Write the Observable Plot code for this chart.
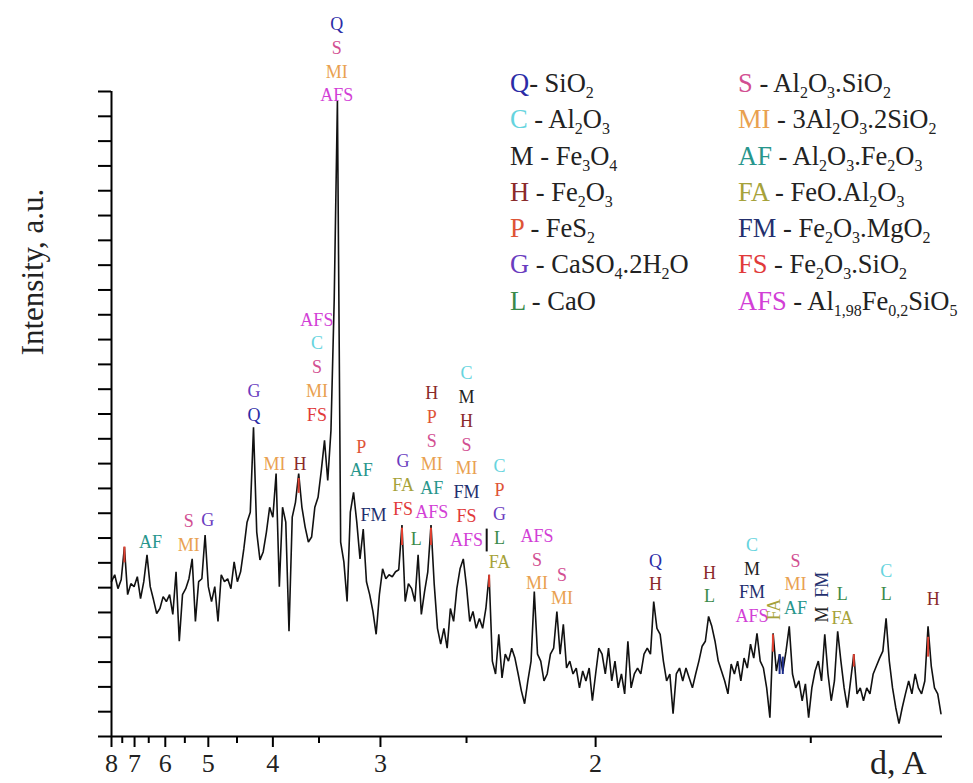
<!DOCTYPE html>
<html>
<head>
<meta charset="utf-8">
<script src="https://cdn.jsdelivr.net/npm/d3@7"></script>
<script src="https://cdn.jsdelivr.net/npm/@observablehq/plot@0.6"></script>
<style>
  body { margin: 0; background: #fff; }
  #wrap { position: relative; width: 973px; height: 783px; color: #222; font-family: "Liberation Serif", Tinos, "Times New Roman", serif; }
  #wrap svg { position: absolute; left: 0; top: 0; }
  .legcol { position: absolute; font-size: 26.5px; line-height: 36.3px; white-space: nowrap; }
  .legcol div { height: 36.3px; }
  .legcol sub { font-size: 16px; vertical-align: -6px; line-height: 0; }
  #ylab { position: absolute; left: 33px; top: 272px; transform: translate(-50%, -50%) rotate(-90deg); font-size: 31px; white-space: nowrap; }
  #xlab { position: absolute; left: 870px; top: 744px; font-size: 34px; white-space: nowrap; }
</style>
</head>
<body>
<div id="wrap"></div>
<script>
// ---- data ----
// diffractogram, sampled uniformly in s = 1/d (Å^-1)
const sStart = 0.125;
const sStep = 0.0025;
const intensity = [
  624,652,596,632,764,572,616,604,644,556,
  624,732,604,552,496,516,564,544,572,492,
  664,384,572,596,636,716,464,624,636,812,
  604,544,604,464,652,624,636,596,704,624,
  664,756,864,904,1246,824,712,744,824,924,
  884,1060,604,924,864,424,884,944,1060,924,
  844,784,804,924,964,1072,1194,1032,1234,1758,
  2563,784,704,544,904,984,864,716,836,624,
  572,504,412,572,676,636,652,644,664,672,
  852,544,616,596,544,732,492,584,664,852,
  612,436,372,436,356,516,464,596,676,716,
  604,464,504,436,476,436,516,652,304,252,
  412,236,332,304,356,316,252,184,132,224,
  304,584,332,304,224,252,332,356,504,332,
  452,276,304,252,276,196,264,224,276,144,
  252,356,332,252,356,224,304,196,252,172,
  384,196,252,276,252,332,356,332,544,436,
  412,304,224,252,92,252,276,224,276,236,
  196,252,304,364,384,484,444,384,304,264,
  224,172,292,252,304,224,316,276,372,316,
  416,304,276,196,76,416,264,332,264,344,
  444,252,196,224,144,212,76,196,264,304,
  224,412,252,144,224,424,304,196,116,224,
  332,172,196,144,196,172,252,284,316,344,
  476,304,196,116,52,116,172,224,172,252,
  196,172,224,444,284,196,172,92
];

// x-axis tick labels (d, Å)
const tickD = [8, 7, 6, 5, 4, 3, 2];
const minorD = [7.5, 6.5, 5.5, 4.5, 3.5, 2.5, 1.5];
const yTicks = d3.range(0, 2601, 100);

// phase labels over peaks: d-spacing, intensity of lowest label, labels top -> bottom
const peakD = [6.44, 5.41, 5.01, 4.25, 3.98, 3.69, 3.52, 3.34, 3.14, 3.05, 2.85, 2.77, 2.68, 2.50, 2.35, 2.20, 2.11, 1.83, 1.70, 1.61, 1.527, 1.447, 1.379, 1.313];
const peakBase = [784, 772, 872, 1296, 1096, 1096, 1296, 2583, 1072, 892, 916, 796, 904, 792, 704, 616, 556, 612, 564, 484, 516, 476, 572, 552];
const peakLabels = [
  ["AF"], ["S", "MI"], ["G"], ["G", "Q"], ["MI"], ["H"],
  ["AFS", "C", "S", "MI", "FS"], ["Q", "S", "MI", "AFS"], ["P", "AF"], ["FM"],
  ["G", "FA", "FS"], ["L"], ["H", "P", "S", "MI", "AF", "AFS"],
  ["C", "M", "H", "S", "MI", "FM", "FS", "AFS"], ["C", "P", "G", "L", "FA"],
  ["AFS", "S", "MI"], ["S", "MI"], ["Q", "H"], ["H", "L"], ["C", "M", "FM", "AFS"],
  ["S", "MI", "AF"], ["L", "FA"], ["C", "L"], ["H"]
];
// vertical (rotated) labels
const rotD = [1.566, 1.481, 1.481];
const rotBase = [512, 492, 612];
const rotLabel = ["FA", "M", "FM"];
// short marker line
const markD = [2.406];
const markLo = [744];
const markHi = [836];
// coloured peak-tip highlights on the trace
const tipD = [7.407, 3.704, 2.857, 2.685, 2.395, 1.569, 1.4286, 1.320, 1.5564, 1.5504];
const tipLo = [700, 980, 770, 770, 600, 340, 280, 320, 250, 250];
const tipHi = [764, 1040, 840, 840, 650, 410, 330, 400, 330, 320];
const tipColor = ["#e04030", "#e04030", "#e04030", "#e04030", "#e04030", "#e04030", "#e04030", "#e04030", "#1a2a8a", "#1a2a8a"];

const phaseColor = {
  Q: "#2b2ba6", C: "#66d4de", M: "#222222", H: "#8a2a2a", P: "#de5436",
  G: "#6a3cbf", L: "#3a8a4a", S: "#d24f92", MI: "#e9a150", AF: "#27968c",
  FA: "#a6a23a", FM: "#232f6e", FS: "#e13a3a", AFS: "#d23fd6"
};

const legendLeft = [
  ["Q", "-&nbsp;SiO<sub>2</sub>"],
  ["C", " - Al<sub>2</sub>O<sub>3</sub>"],
  ["M", " - Fe<sub>3</sub>O<sub>4</sub>"],
  ["H", " - Fe<sub>2</sub>O<sub>3</sub>"],
  ["P", " - FeS<sub>2</sub>"],
  ["G", " - CaSO<sub>4</sub>.2H<sub>2</sub>O"],
  ["L", " - CaO"]
];
const legendRight = [
  ["S", " - Al<sub>2</sub>O<sub>3</sub>.SiO<sub>2</sub>"],
  ["MI", " - 3Al<sub>2</sub>O<sub>3</sub>.2SiO<sub>2</sub>"],
  ["AF", " - Al<sub>2</sub>O<sub>3</sub>.Fe<sub>2</sub>O<sub>3</sub>"],
  ["FA", " - FeO.Al<sub>2</sub>O<sub>3</sub>"],
  ["FM", " - Fe<sub>2</sub>O<sub>3</sub>.MgO<sub>2</sub>"],
  ["FS", " - Fe<sub>2</sub>O<sub>3</sub>.SiO<sub>2</sub>"],
  ["AFS", " - Al<sub>1,98</sub>Fe<sub>0,2</sub>SiO<sub>5</sub>"]
];

const font = "'Liberation Serif', Tinos, 'Times New Roman', serif";

// ---- build ----
const spectrum = intensity.map((v, i) => ({s: sStart + i * sStep, v}));
const labels = [];
peakD.forEach((d, j) => {
  const arr = peakLabels[j];
  arr.forEach((lab, k) => labels.push({s: 1 / d, v: peakBase[j], lab, level: arr.length - 1 - k}));
});
const rotated = rotD.map((d, j) => ({s: 1 / d, v: rotBase[j], lab: rotLabel[j]}));
const marks2 = markD.map((d, j) => ({s: 1 / d, lo: markLo[j], hi: markHi[j]}));
const tips = tipD.map((d, j) => ({s: 1 / d, lo: tipLo[j], hi: tipHi[j], c: tipColor[j]}));

const levelMarks = d3.range(0, 8).map(k =>
  Plot.text(labels.filter(l => l.level === k), {
    x: "s", y: "v", text: "lab", fill: l => phaseColor[l.lab],
    dy: -23.8 * k, fontSize: 18, fontFamily: font
  })
);

const chart = Plot.plot({
  width: 973,
  height: 783,
  marginLeft: 111,
  marginRight: 31,
  marginTop: 91,
  marginBottom: 47,
  style: {background: "transparent", fontFamily: font},
  x: {domain: [0.125, 0.7687], axis: null, label: null},
  y: {domain: [0, 2600], axis: null, label: null},
  marks: [
    Plot.line(spectrum, {x: "s", y: "v", stroke: "#111", strokeWidth: 1.6, strokeLinejoin: "miter"}),
    Plot.ruleX(tips, {x: "s", y1: "lo", y2: "hi", stroke: "c", strokeWidth: 2}),
    Plot.ruleX(marks2, {x: "s", y1: "lo", y2: "hi", stroke: "#111", strokeWidth: 2}),
    ...levelMarks,
    Plot.text(rotated, {x: "s", y: "v", text: "lab", rotate: -90, fill: l => phaseColor[l.lab], fontSize: 18, fontFamily: font}),
    Plot.axisY(yTicks, {anchor: "left", label: null, tickSize: 13, tickFormat: () => "", stroke: "#000", strokeWidth: 2}),
    Plot.axisX(minorD.map(d => 1 / d), {anchor: "bottom", label: null, tickSize: 7, tickFormat: () => "", stroke: "#000", strokeWidth: 2}),
    Plot.axisX(tickD.map(d => 1 / d), {anchor: "bottom", label: null, tickSize: 11, tickPadding: 6, tickFormat: s => String(Math.round(1 / s)), fontSize: 26, fontFamily: font, fill: "#222", stroke: "#000", strokeWidth: 2}),
    Plot.ruleX([0.125], {stroke: "#000", strokeWidth: 2}),
    Plot.ruleY([0], {stroke: "#000", strokeWidth: 2})
  ]
});

const wrap = document.getElementById("wrap");
wrap.appendChild(chart);

function legendColumn(rows, left, top) {
  const col = document.createElement("div");
  col.className = "legcol";
  col.style.left = left + "px";
  col.style.top = top + "px";
  col.innerHTML = rows.map(([k, rest]) =>
    `<div><span style="color:${phaseColor[k]}">${k}</span>${rest}</div>`).join("");
  wrap.appendChild(col);
}
legendColumn(legendLeft, 510, 65);
legendColumn(legendRight, 738, 65);

const ylab = document.createElement("div");
ylab.id = "ylab";
ylab.textContent = "Intensity, a.u.";
wrap.appendChild(ylab);

const xlab = document.createElement("div");
xlab.id = "xlab";
xlab.textContent = "d, A";
wrap.appendChild(xlab);
</script>
</body>
</html>
